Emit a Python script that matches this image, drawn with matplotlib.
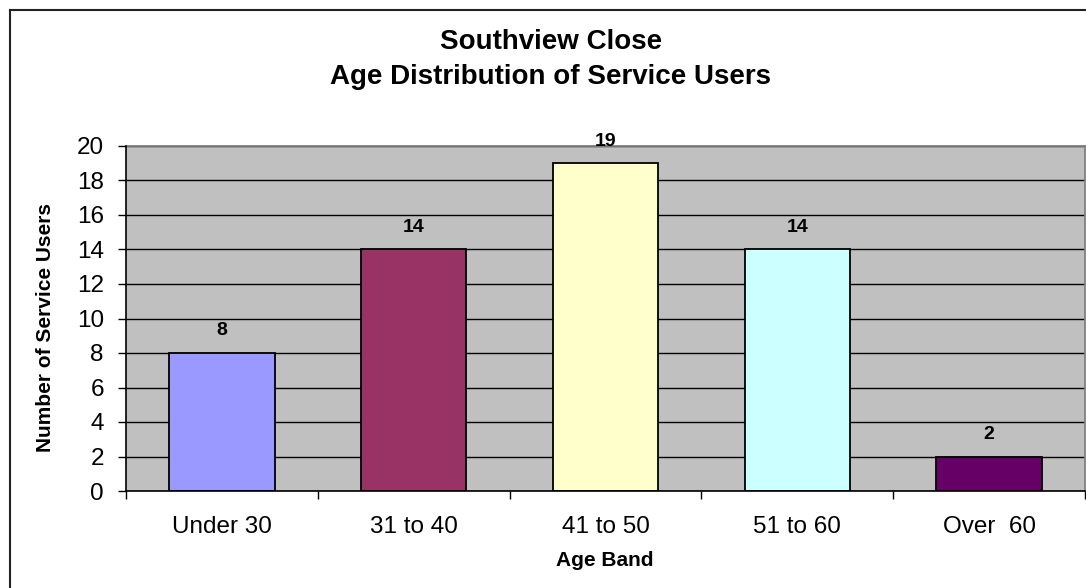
import matplotlib
matplotlib.use("Agg")
import matplotlib.pyplot as plt
from matplotlib.lines import Line2D
from matplotlib.ticker import FixedLocator, NullFormatter

# Data
age_bands = ["Under 30", "31 to 40", "41 to 50", "51 to 60", "Over  60"]
users = [8, 14, 19, 14, 2]
bar_colors = ["#9999FF", "#993366", "#FFFFCC", "#CCFFFF", "#660066"]
y_ticks = list(range(0, 21, 2))

plt.rcParams["font.family"] = ["Liberation Sans", "DejaVu Sans"]

W, H = 1086, 588
fig = plt.figure(figsize=(W / 100, H / 100), dpi=100)
fig.patch.set_facecolor("white")

left, right, top, bottom = 126, 1085, 146, 491
ax = fig.add_axes([left / W, 1 - bottom / H, (right - left) / W, (bottom - top) / H])
ax.set_facecolor("#C0C0C0")

x = list(range(len(age_bands)))
bars = ax.bar(x, users, width=0.55, color=bar_colors, edgecolor="black",
              linewidth=1.3, zorder=3)

for xi, v in zip(x, users):
    ax.annotate(str(v), (xi, v), xytext=(0, 16), textcoords="offset points",
                ha="center", va="center", fontsize=14, fontweight="bold",
                zorder=4)

ax.set_xlim(-0.5, len(age_bands) - 0.5)
ax.set_ylim(0, 20)
ax.set_yticks(y_ticks)
ax.set_yticklabels([str(t) for t in y_ticks])
ax.set_xticks(x)
ax.set_xticklabels(age_bands)
ax.xaxis.set_minor_locator(FixedLocator([i - 0.5 for i in range(len(age_bands) + 1)]))
ax.xaxis.set_minor_formatter(NullFormatter())

ax.tick_params(axis="x", which="major", length=0, pad=18, labelsize=17.5)
ax.tick_params(axis="x", which="minor", length=6, width=1, direction="out", color="black")
ax.tick_params(axis="y", which="major", length=6, width=1, direction="out",
               pad=10, labelsize=17.5, color="black")

ax.yaxis.grid(True, color="black", linewidth=1, zorder=1)
ax.set_axisbelow(True)

for side in ("top", "right"):
    ax.spines[side].set_color("#808080")
    ax.spines[side].set_linewidth(1.3)
for side in ("left", "bottom"):
    ax.spines[side].set_color("black")
    ax.spines[side].set_linewidth(1.2)
    ax.spines[side].set_zorder(5)

# Titles and axis labels
fig.text(551 / W, 1 - 42 / H, "Southview Close", ha="center", va="center",
         fontsize=20, fontweight="bold")
fig.text(551 / W, 1 - 77 / H, "Age Distribution of Service Users", ha="center",
         va="center", fontsize=20, fontweight="bold")
fig.text(46 / W, 1 - 328 / H, "Number of Service Users", ha="center", va="center",
         rotation=90, fontsize=15, fontweight="bold")
fig.text(605 / W, 1 - 561 / H, "Age Band", ha="center", va="center",
         fontsize=15, fontweight="bold")

# Chart frame (left and top edges)
fig.add_artist(Line2D([10 / W, 10 / W], [0, 1 - 10 / H], transform=fig.transFigure,
                      color="#222222", linewidth=1.5))
fig.add_artist(Line2D([10 / W, 1], [1 - 10 / H, 1 - 10 / H], transform=fig.transFigure,
                      color="#222222", linewidth=1.5))

fig.savefig("out.png", dpi=100)
